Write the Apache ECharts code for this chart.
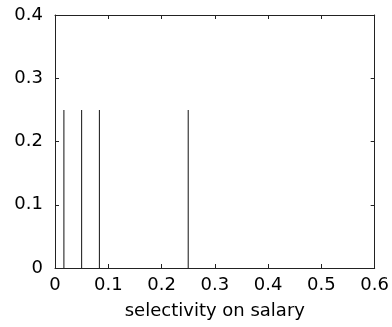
<!DOCTYPE html>
<html>
<head>
<meta charset="utf-8">
<script src="https://cdn.jsdelivr.net/npm/echarts@6/dist/echarts.min.js"></script>
<style>html,body{margin:0;padding:0;background:#fff;}#c{width:392px;height:327px;}</style>
</head>
<body>
<div id="c"></div>
<script>
const selectivity = [0.0167, 0.05, 0.0833, 0.25];
const values = [0.25, 0.25, 0.25, 0.25];
const xTicks = ['0', '0.1', '0.2', '0.3', '0.4', '0.5', '0.6'];
const yTicks = ['0', '0.1', '0.2', '0.3', '0.4'];
const xTitle = 'selectivity on salary';

const chart = echarts.init(document.getElementById('c'), null, {renderer: 'canvas'});
const font = 'DejaVu Sans';
const axisLine = {show: true, onZero: false, lineStyle: {color: '#222', width: 1}};
const tick = {show: true, inside: true, length: 4, lineStyle: {color: '#222'}};
function fmt(list, step) {
  return function (v) { const i = Math.round(v / step); return list[i] !== undefined ? list[i] : ''; };
}
chart.setOption({
  animation: false,
  backgroundColor: '#fff',
  grid: {left: 55, right: 16, top: 15, bottom: 59, containLabel: false},
  xAxis: [{
    type: 'value', min: 0, max: 0.6, interval: 0.1, position: 'bottom',
    name: xTitle, nameLocation: 'middle', nameGap: 34,
    nameTextStyle: {fontFamily: font, fontSize: 18, color: '#000'},
    axisLine: axisLine, axisTick: tick, splitLine: {show: false},
    axisLabel: {fontFamily: font, fontSize: 18, color: '#000', margin: 8, formatter: fmt(xTicks, 0.1)}
  }, {
    type: 'value', min: 0, max: 0.6, interval: 0.1, position: 'top',
    axisLine: axisLine, axisTick: tick, splitLine: {show: false}, axisLabel: {show: false}
  }],
  yAxis: [{
    type: 'value', min: 0, max: 0.4, interval: 0.1, position: 'left',
    axisLine: axisLine, axisTick: tick, splitLine: {show: false},
    axisLabel: {fontFamily: font, fontSize: 18, color: '#000', margin: 12, formatter: fmt(yTicks, 0.1)}
  }, {
    type: 'value', min: 0, max: 0.4, interval: 0.1, position: 'right',
    axisLine: axisLine, axisTick: tick, splitLine: {show: false}, axisLabel: {show: false}
  }],
  series: [{
    type: 'bar', xAxisIndex: 0, yAxisIndex: 0, barWidth: 1,
    itemStyle: {color: '#111'},
    data: selectivity.map((x, i) => [x, values[i]])
  }]
});
</script>
</body>
</html>
